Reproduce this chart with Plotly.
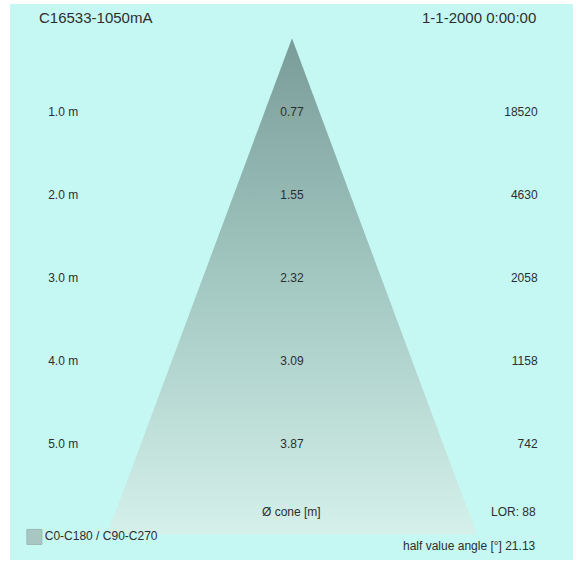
import math
import plotly.graph_objects as go

# ---- data ----
heights_m = [1.0, 2.0, 3.0, 4.0, 5.0]
height_labels = ["1.0 m", "2.0 m", "3.0 m", "4.0 m", "5.0 m"]
cone_diameters = [0.77, 1.55, 2.32, 3.09, 3.87]
illuminance = [18520, 4630, 2058, 1158, 742]
half_value_angle = 21.13
lor = 88
title_left = "C16533-1050mA"
title_right = "1-1-2000 0:00:00"
legend_name = "C0-C180 / C90-C270"

# cone geometry (drawn in metres)
apex_y = 0.1
base_y = 6.08
half_w = math.tan(math.radians(half_value_angle)) * (base_y - apex_y)

BG = "#c5f8f3"
FONT = "Liberation Sans, Arial, sans-serif"
TXT = "#2e2e2e"

fig = go.Figure()

fig.add_trace(go.Scatter(
    x=[0, half_w, -half_w, 0],
    y=[apex_y, base_y, base_y, apex_y],
    mode="lines",
    line=dict(width=0, color="rgba(0,0,0,0)"),
    fill="toself",
    fillgradient=dict(
        type="vertical",
        start=apex_y,
        stop=base_y,
        colorscale=[[0, "#7a9c98"], [0.5, "#a3c9c2"], [1, "#d5f0ea"]],
    ),
    name=legend_name,
    showlegend=False,
    hoverinfo="skip",
))

# legend entry (swatch + label)
fig.add_trace(go.Scatter(
    x=[-3.22], y=[6.108], mode="markers+text",
    marker=dict(symbol="square", size=15, color="#a8c6c2",
                line=dict(color="#9ab8b4", width=1)),
    text=[legend_name], textposition="middle right",
    textfont=dict(family=FONT, size=12, color=TXT),
    showlegend=False, hoverinfo="skip",
))

# left column: heights
fig.add_trace(go.Scatter(
    x=[-2.86] * len(heights_m), y=heights_m, mode="text",
    text=height_labels, textposition="middle center",
    textfont=dict(family=FONT, size=12, color=TXT),
    showlegend=False, hoverinfo="skip",
))
# centre column: cone diameters
fig.add_trace(go.Scatter(
    x=[0] * len(heights_m), y=heights_m, mode="text",
    text=[f"{d:.2f}" for d in cone_diameters], textposition="middle center",
    textfont=dict(family=FONT, size=12, color=TXT),
    showlegend=False, hoverinfo="skip",
))
# right column: illuminance
fig.add_trace(go.Scatter(
    x=[3.07] * len(heights_m), y=heights_m, mode="text",
    text=[str(v) for v in illuminance], textposition="middle left",
    textfont=dict(family=FONT, size=12, color=TXT),
    showlegend=False, hoverinfo="skip",
))

annos = [
    dict(x=0.048, y=0.9755, text=title_left, xanchor="left", font=dict(size=15)),
    dict(x=0.938, y=0.9755, text=title_right, xanchor="right", font=dict(size=15)),
    dict(x=0.5, y=0.0860, text="Ø cone [m]", xanchor="center", font=dict(size=12)),
    dict(x=0.938, y=0.0860, text=f"LOR: {lor}", xanchor="right", font=dict(size=12)),
    dict(x=0.938, y=0.0250, text=f"half value angle [°] {half_value_angle}", xanchor="right", font=dict(size=12)),
]
for a in annos:
    a.update(xref="paper", yref="paper", yanchor="middle", showarrow=False)
    a["font"].update(family=FONT, color=TXT)

fig.update_layout(
    width=579, height=564,
    margin=dict(l=10, r=6, t=4, b=4),
    paper_bgcolor="white",
    plot_bgcolor=BG,
    xaxis=dict(range=[-3.525, 3.5125], visible=False, fixedrange=True),
    yaxis=dict(range=[6.386, -0.313], visible=False, fixedrange=True),
    annotations=annos,
    showlegend=False,
)

fig.write_html("out.html", config={"displayModeBar": False},
               post_script="document.body.style.margin='0';")
